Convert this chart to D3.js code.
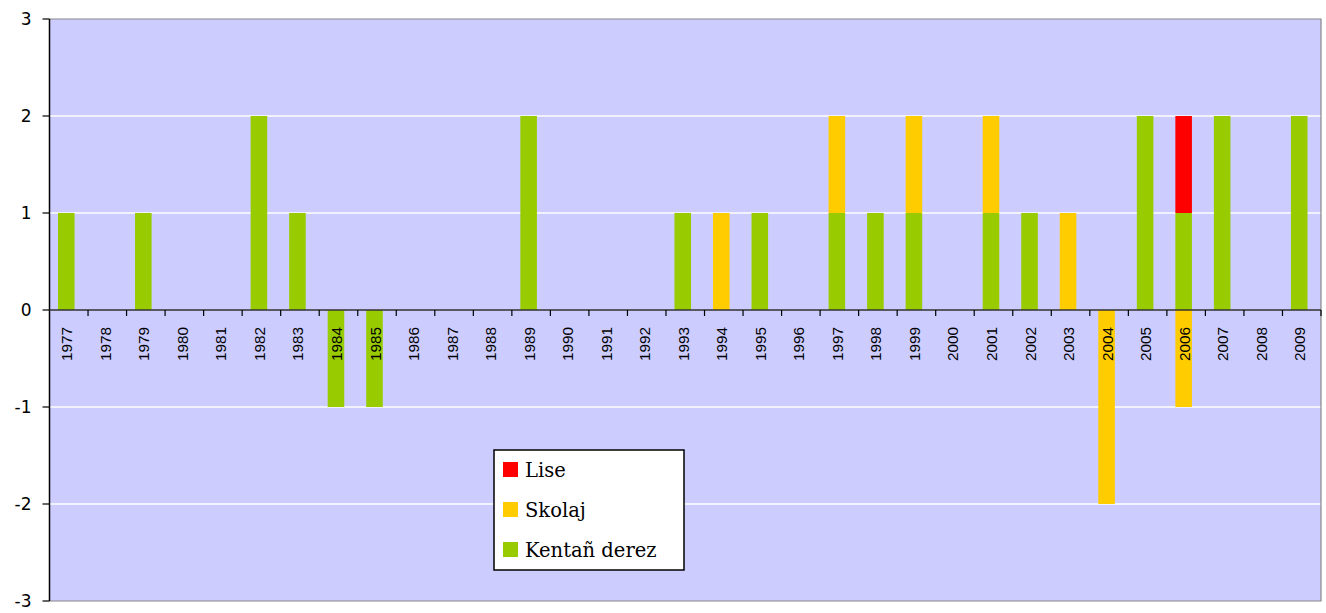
<!DOCTYPE html>
<html>
<head>
<meta charset="utf-8">
<script src="https://cdn.jsdelivr.net/npm/d3@7"></script>
<style>
  body { margin: 0; background: #fff; }
</style>
</head>
<body>
<div class="graphic"></div>
<script>
// years on the x axis
const years = d3.range(1977, 2010).map(String)

// series values per year (0 = nothing)
const kentanDerez = [1,0,1,0,0,2,1,-1,-1,0,0,0,2,0,0,0,1,0,1,0,1,1,1,0,1,1,0,0,2,1,2,0,2]
const skolaj      = [0,0,0,0,0,0,0,0,0,0,0,0,0,0,0,0,0,1,0,0,1,0,1,0,1,0,1,-2,0,-1,0,0,0]
const lise        = [0,0,0,0,0,0,0,0,0,0,0,0,0,0,0,0,0,0,0,0,0,0,0,0,0,0,0,0,0,1,0,0,0]

const seriesNames = ["Kentañ derez", "Skolaj", "Lise"]
const yTicks = [3, 2, 1, 0, -1, -2, -3]

const colors = { "Kentañ derez": "#99CC00", "Skolaj": "#FFCC00", "Lise": "#FF0000" }

const W = 1326, H = 613
const mLeft = 49.5, mRight = 1321, mTop = 19, mBottom = 601

const svg = d3.select(".graphic")
  .append("svg")
  .attr("width", W)
  .attr("height", H)

const rows = years.map((y, i) => ({
  year: y,
  "Kentañ derez": kentanDerez[i],
  "Skolaj": skolaj[i],
  "Lise": lise[i]
}))

const stacked = d3.stack()
  .keys(seriesNames)
  .offset(d3.stackOffsetDiverging)(rows)

const xScale = d3.scaleBand()
  .domain(years)
  .range([mLeft, mRight])

const yScale = d3.scaleLinear()
  .domain([-3, 3])
  .range([mBottom, mTop])

const bw = xScale.bandwidth()

// plot background
svg.append("rect")
  .attr("x", mLeft).attr("y", mTop)
  .attr("width", mRight - mLeft).attr("height", mBottom - mTop)
  .attr("fill", "#CCCCFF")

// grid lines
svg.append("g")
  .selectAll("line")
  .data(yTicks.filter(d => d !== 0 && Math.abs(d) !== 3))
  .join("line")
    .attr("x1", mLeft).attr("x2", mRight)
    .attr("y1", d => yScale(d)).attr("y2", d => yScale(d))
    .attr("stroke", "#fff")
    .attr("stroke-width", 1.5)

// frame top/right/bottom
svg.append("path")
  .attr("d", `M${mLeft},${mTop}H${mRight}V${mBottom}H${mLeft}`)
  .attr("fill", "none")
  .attr("stroke", "#888")
  .attr("stroke-width", 1.2)

// bars
svg.append("g")
  .selectAll("g")
  .data(stacked)
  .join("g")
    .attr("fill", d => colors[d.key])
  .selectAll("rect")
  .data(d => d)
  .join("rect")
    .attr("x", d => xScale(d.data.year) + bw * 0.22)
    .attr("width", bw * 0.43)
    .attr("y", d => yScale(Math.max(d[0], d[1])))
    .attr("height", d => Math.abs(yScale(d[0]) - yScale(d[1])))

// y axis
svg.append("line")
  .attr("x1", mLeft).attr("x2", mLeft)
  .attr("y1", mTop).attr("y2", mBottom)
  .attr("stroke", "#000").attr("stroke-width", 1.5)

svg.append("g")
  .selectAll("line")
  .data(yTicks)
  .join("line")
    .attr("x1", mLeft - 7).attr("x2", mLeft)
    .attr("y1", d => yScale(d)).attr("y2", d => yScale(d))
    .attr("stroke", "#000").attr("stroke-width", 1.2)

svg.append("g")
  .selectAll("text")
  .data(yTicks)
  .join("text")
    .text(d => d)
    .attr("x", mLeft - 18)
    .attr("y", d => yScale(d))
    .attr("dy", "0.35em")
    .attr("text-anchor", "end")
    .attr("font-family", "DejaVu Sans, Verdana, sans-serif")
    .attr("font-size", 17)
    .attr("fill", "#000")

// x axis at 0
svg.append("line")
  .attr("x1", mLeft).attr("x2", mRight)
  .attr("y1", yScale(0)).attr("y2", yScale(0))
  .attr("stroke", "#333").attr("stroke-width", 1.5)

svg.append("g")
  .selectAll("line")
  .data(years.slice(1).concat(["end"]))
  .join("line")
    .attr("x1", d => d === "end" ? mRight : xScale(d))
    .attr("x2", d => d === "end" ? mRight : xScale(d))
    .attr("y1", yScale(0)).attr("y2", yScale(0) + 6)
    .attr("stroke", "#000").attr("stroke-width", 1.2)

svg.append("g")
  .selectAll("text")
  .data(years)
  .join("text")
    .text(d => d)
    .attr("transform", d => `translate(${xScale(d) + bw * 0.435 + 6},${yScale(0) + 17}) rotate(-90)`)
    .attr("text-anchor", "end")
    .attr("textLength", 34)
    .attr("lengthAdjust", "spacingAndGlyphs")
    .attr("font-family", "Liberation Sans, Arial, sans-serif")
    .attr("font-size", 14)
    .attr("fill", "#000")

// legend
const legend = svg.append("g").attr("transform", "translate(494,450)")
legend.append("rect")
  .attr("width", 190).attr("height", 120)
  .attr("fill", "#fff").attr("stroke", "#000").attr("stroke-width", 1.5)

const legendItems = legend.selectAll("g")
  .data(["Lise", "Skolaj", "Kentañ derez"])
  .join("g")
    .attr("transform", (d, i) => `translate(9,${20 + i * 40})`)

legendItems.append("rect")
  .attr("y", -8).attr("width", 15).attr("height", 15)
  .attr("fill", d => colors[d])

legendItems.append("text")
  .text(d => d)
  .attr("x", 22)
  .attr("dy", "0.35em")
  .attr("font-family", "DejaVu Serif, serif")
  .attr("font-size", 19.5)
  .attr("fill", "#000")
</script>
</body>
</html>
